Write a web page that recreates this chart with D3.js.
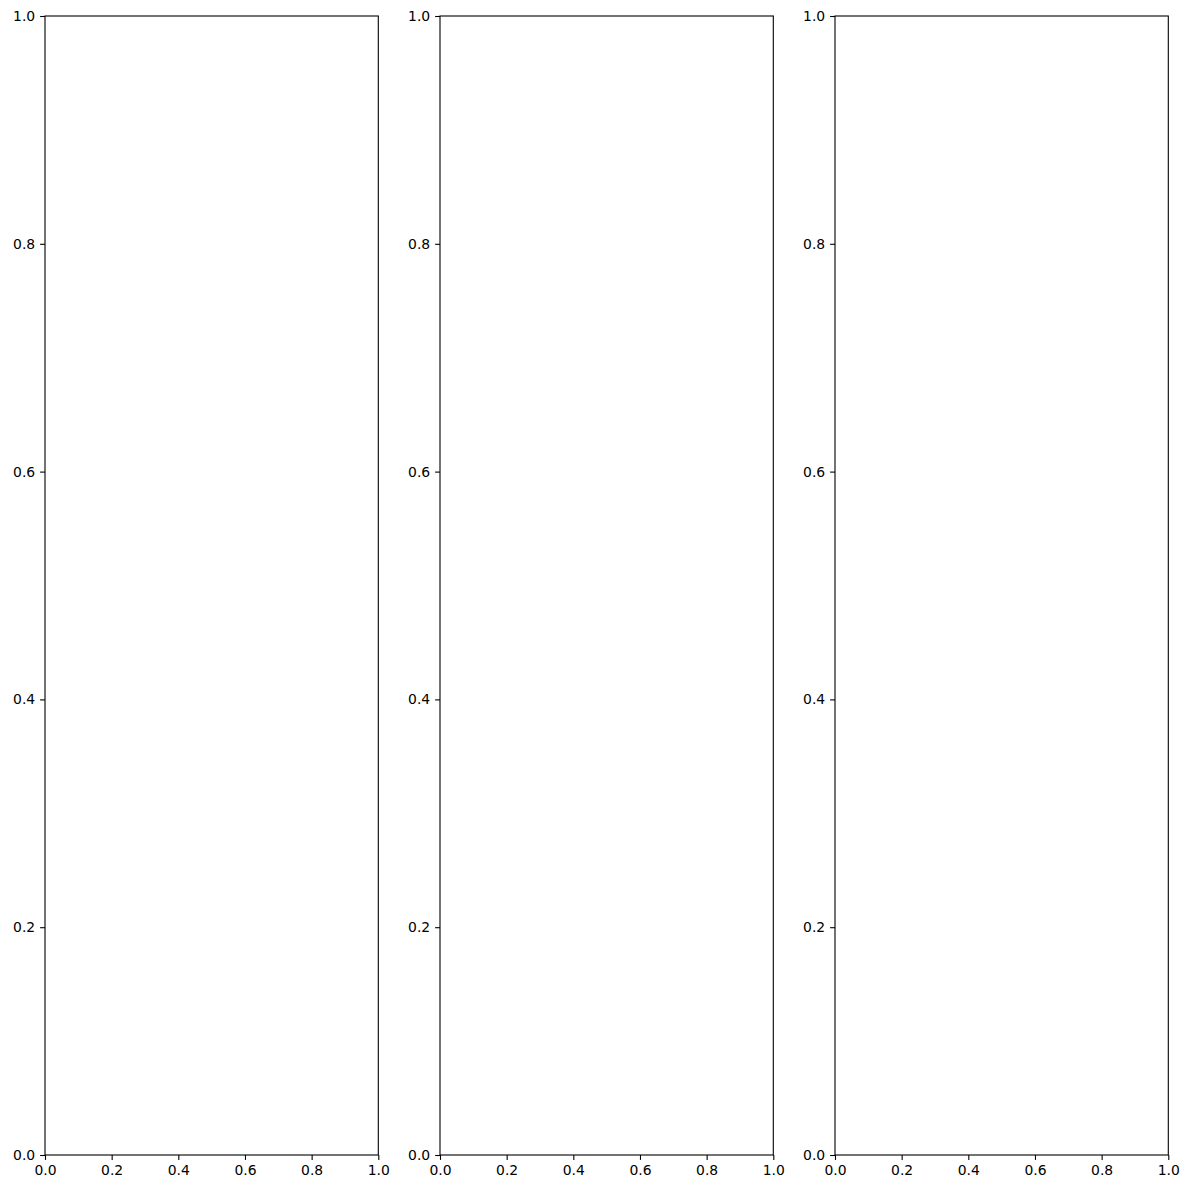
<!DOCTYPE html>
<html>
<head>
<meta charset="utf-8">
<script src="https://cdn.jsdelivr.net/npm/d3@7"></script>
<style>
  body { margin: 0; background: #fff; }
  text { font-family: "DejaVu Sans", sans-serif; }
</style>
</head>
<body>
<div id="chart"></div>
<script>
// three empty panels, all on a 0..1 domain
const panels = ["left", "middle", "right"];
const xTicks = [0, 0.2, 0.4, 0.6, 0.8, 1.0];
const yTicks = [0, 0.2, 0.4, 0.6, 0.8, 1.0];

const W = 1190, H = 1190;
const plotTop = 16, plotBottom = 1155;
const panelW = 333.3;
const panelLeft = [45, 440, 835];
const tickLen = 4.9, fontSize = 13.9;

var svg = d3.select("#chart")
    .append("svg")
    .attr("width", W)
    .attr("height", H);

panels.forEach(function(name, i) {
    var x0 = panelLeft[i];
    var x = d3.scaleLinear().domain([0, 1]).range([x0, x0 + panelW]);
    var y = d3.scaleLinear().domain([0, 1]).range([plotBottom, plotTop]);

    var g = svg.append("g").attr("class", "panel " + name);

    var xAxis = g.append("g")
        .attr("transform", "translate(0," + plotBottom + ")")
        .call(d3.axisBottom(x).tickValues(xTicks).tickFormat(d3.format(".1f"))
            .tickSize(tickLen).tickPadding(4.9).tickSizeOuter(0));
    var yAxis = g.append("g")
        .attr("transform", "translate(" + x0 + ",0)")
        .call(d3.axisLeft(y).tickValues(yTicks).tickFormat(d3.format(".1f"))
            .tickSize(tickLen).tickPadding(4.9).tickSizeOuter(0));

    [xAxis, yAxis].forEach(function(a) {
        a.select(".domain").remove();
        a.selectAll("line").attr("stroke", "#000").attr("stroke-width", 1.1);
        a.selectAll("text")
            .attr("fill", "#000")
            .style("font-size", fontSize + "px")
            .style("font-family", "'DejaVu Sans', sans-serif");
    });

    // frame
    g.append("rect")
        .attr("x", x(0))
        .attr("y", y(1))
        .attr("width", x(1) - x(0))
        .attr("height", y(0) - y(1))
        .attr("fill", "none")
        .attr("stroke", "#000")
        .attr("stroke-width", 1.1);
});
</script>
</body>
</html>
